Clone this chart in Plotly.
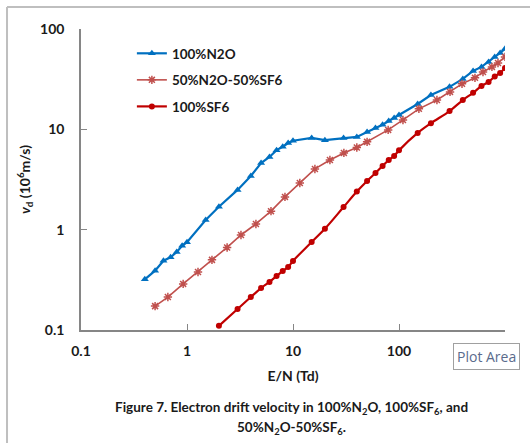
import plotly.graph_objects as go

# 100% N2O
x_n2o = [0.4, 0.5, 0.6, 0.7, 0.8, 0.9, 1, 1.5, 2, 3, 4, 5, 6, 7, 8, 9, 10, 15, 20, 30, 40, 50, 60, 70, 80, 90, 100,
         150, 200, 300, 400, 500, 600, 700, 800, 900, 1000]
y_n2o = [0.32, 0.39, 0.49, 0.53, 0.60, 0.69, 0.75, 1.25, 1.69, 2.49, 3.43, 4.62, 5.3, 6.2, 6.7, 7.3, 7.7, 8.2, 7.8,
         8.2, 8.4, 9.4, 10.3, 11.1, 12.1, 13.0, 13.9, 17.9, 22.0, 26.5, 31.8, 38.2, 41.9, 47.0, 52.7, 57.8, 63.4]

# 50% N2O - 50% SF6
x_mix = [0.5, 0.66, 0.92, 1.27, 1.72, 2.39, 3.23, 4.47, 6.2, 8.4, 11.6, 16.1, 22.3, 30.2, 40, 50, 79, 109, 154,
         228, 303, 393, 521, 620, 753, 859, 1000]
y_mix = [0.173, 0.213, 0.288, 0.379, 0.50, 0.665, 0.885, 1.14, 1.53, 2.12, 2.92, 4.03, 4.95, 5.82, 6.6, 7.5, 9.87,
         12.4, 16.0, 19.6, 23.6, 28.4, 32.6, 37.3, 41.9, 45.9, 52.7]

# 100% SF6
x_sf6 = [2, 3, 4, 5, 6, 7, 8, 9, 10, 15, 20, 30, 40, 50, 60, 70, 80, 90, 100, 150, 200, 300, 400, 500, 600, 700,
         800, 900, 1000]
y_sf6 = [0.110, 0.162, 0.213, 0.262, 0.301, 0.345, 0.388, 0.425, 0.488, 0.754, 1.02, 1.68, 2.4, 3.06, 3.67, 4.32,
         4.95, 5.43, 6.17, 9.2, 11.5, 15.2, 19.6, 23.1, 27.1, 29.7, 33.7, 36.5, 40.9]

x_ticks = [0.1, 1, 10, 100, 1000]
x_ticktext = ["0.1", "1", "10", "100", ""]
y_ticks = [0.1, 1, 10, 100]
y_ticktext = ["0.1", "1", "10", "100"]
minor_digits = [2, 3, 4, 5, 6, 7, 8, 9]
x_decades = [0.1, 1, 10, 100]
y_decades = [0.1, 1, 10]
x_minor = [d * m for d in x_decades for m in minor_digits]
y_minor = [d * m for d in y_decades for m in minor_digits]

FONT = "Lato"
AX = "#868686"
TXT = "#1a1a1a"

fig = go.Figure()
fig.add_trace(go.Scatter(x=x_n2o, y=y_n2o, mode="lines+markers", name="100%N2O", legendgroup="a",
                         line=dict(color="#0070C0", width=2.2),
                         marker=dict(symbol="triangle-up", size=7, color="#0070C0")))
fig.add_trace(go.Scatter(x=x_mix, y=y_mix, mode="lines+markers", name="50%N2O-50%SF6", legendgroup="b",
                         line=dict(color="#C0504D", width=1.6),
                         marker=dict(symbol="asterisk-open", size=7, color="#C0504D",
                                     line=dict(color="#C0504D", width=1.5))))
fig.add_trace(go.Scatter(x=x_sf6, y=y_sf6, mode="lines+markers", name="100%SF6", legendgroup="c",
                         line=dict(color="#C00000", width=2.2, shape="spline", smoothing=1),
                         marker=dict(symbol="circle", size=6, color="#C00000")))

axis_common = dict(type="log", showgrid=False, zeroline=False, showline=True, linecolor=AX, linewidth=1.5,
                   ticks="inside", ticklen=6, tickcolor=AX,
                   tickfont=dict(family=FONT, size=14, color=TXT, weight="bold"))

fig.update_layout(
    xaxis=dict(range=[-1, 3], tickvals=x_ticks, ticktext=x_ticktext, ticklabelstandoff=7,
               title=dict(text="<b>E/N (Td)</b>", font=dict(family=FONT, size=14, color=TXT), standoff=14),
               **axis_common),
    yaxis=dict(range=[-1, 2], tickvals=y_ticks, ticktext=y_ticktext, ticklabelstandoff=12,
               title=dict(text="<b><i>v</i><sub>d</sub> (10<sup>6</sup>m/s)</b>",
                          font=dict(family=FONT, size=14, color=TXT), standoff=6),
               **axis_common),
    # minor tick overlays
    xaxis2=dict(type="log", range=[-1, 3], overlaying="x", anchor="y", side="bottom", tickvals=x_minor,
                ticks="inside", ticklen=4, tickcolor=AX, showticklabels=False, showgrid=False,
                zeroline=False, showline=False),
    yaxis2=dict(type="log", range=[-1, 2], overlaying="y", anchor="x", side="left", tickvals=y_minor,
                ticks="inside", ticklen=4, tickcolor=AX, showticklabels=False, showgrid=False,
                zeroline=False, showline=False),
)

# outer frame
fig.add_shape(type="line", xref="paper", yref="paper", x0=-0.1745, y0=1.0731, x1=1.06, y1=1.0731,
              line=dict(color="#BFBFBF", width=2))
fig.add_shape(type="line", xref="paper", yref="paper", x0=-0.1745, y0=1.0731, x1=-0.1745, y1=-0.38,
              line=dict(color="#BFBFBF", width=2))

# caption
fig.add_annotation(xref="paper", yref="paper", x=0.497, y=-0.259, yanchor="middle", showarrow=False,
                   text="<b>Figure 7. Electron drift velocity in 100%N<sub>2</sub>O, 100%SF<sub>6</sub>, and</b>",
                   font=dict(family=FONT, size=13.5, color=TXT))
fig.add_annotation(xref="paper", yref="paper", x=0.497, y=-0.326, yanchor="middle", showarrow=False,
                   text="<b>50%N<sub>2</sub>O-50%SF<sub>6</sub>.</b>",
                   font=dict(family=FONT, size=13.5, color=TXT))

# Excel tooltip
fig.add_annotation(xref="paper", yref="paper", x=0.877, y=-0.043, xanchor="left", yanchor="top",
                   showarrow=False, text="Plot Area", bgcolor="white", bordercolor="#A0A0A0", borderwidth=1,
                   borderpad=3, font=dict(family="Open Sans", size=14, color="#5A6B8C"))

fig.update_layout(
    width=530, height=443,
    margin=dict(l=81, r=25, t=29, b=113),
    paper_bgcolor="white", plot_bgcolor="white",
    showlegend=True,
    legend=dict(x=0.12, y=0.97, xanchor="left", yanchor="top", bgcolor="rgba(0,0,0,0)",
                font=dict(family=FONT, size=13.5, color=TXT, weight="bold"),
                itemwidth=30, tracegroupgap=6),
)

fig.write_html("out.html")
